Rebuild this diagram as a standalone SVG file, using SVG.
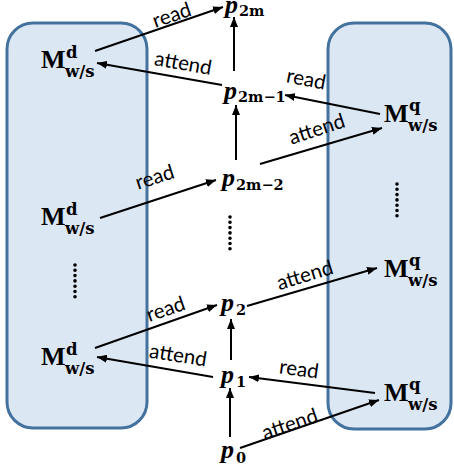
<svg xmlns="http://www.w3.org/2000/svg" width="454" height="470" viewBox="0 0 454 470">
<style>
.box{fill:#dce7f4;stroke:#44729e;stroke-width:3}
.M{font-family:"Liberation Serif",serif;font-weight:bold;font-size:26px;fill:#000}
.ms{font-family:"DejaVu Serif",serif;font-weight:bold;font-size:16.5px;fill:#000}
.p{font-family:"Liberation Serif",serif;font-weight:bold;font-style:italic;font-size:26px;fill:#000}
.ps{font-family:"DejaVu Serif",serif;font-weight:bold;font-size:14.5px;fill:#000}
.lab{font-family:Lato,"Liberation Sans",sans-serif;font-size:20.5px;fill:#000;text-anchor:middle}
.arr{stroke:#000;stroke-width:2;fill:none;marker-end:url(#ah)}
.dots{stroke:#000;stroke-width:3.6;stroke-linecap:round;stroke-dasharray:0 5.3;fill:none}
</style>
<defs>
<marker id="ah" markerUnits="userSpaceOnUse" markerWidth="10" markerHeight="8" refX="10" refY="4" orient="auto">
<path d="M0,0 L10,4 L0,8 z" fill="#000"/>
</marker>
</defs>
<g id="box-d"><rect class="box" x="7" y="23" width="140" height="405" rx="26"/></g>
<g id="box-q"><rect class="box" x="328" y="23" width="123" height="406" rx="26"/></g>

<g id="connectors">
<line class="arr" x1="230" y1="437" x2="230" y2="388"/>
<line class="arr" x1="231" y1="360" x2="231" y2="319"/>
<line class="arr" x1="236" y1="160" x2="236" y2="105"/>
<line class="arr" x1="234" y1="71" x2="234" y2="17"/>
<line class="arr" x1="95" y1="51" x2="223" y2="7"/>
<line class="arr" x1="222" y1="85" x2="97" y2="63"/>
<line class="arr" x1="380" y1="114" x2="285" y2="95"/>
<line class="arr" x1="260" y1="164" x2="382" y2="128"/>
<line class="arr" x1="100" y1="218" x2="216" y2="180"/>
<line class="arr" x1="95" y1="348" x2="217" y2="305"/>
<line class="arr" x1="213" y1="377" x2="97" y2="357"/>
<line class="arr" x1="247" y1="306" x2="377" y2="268"/>
<line class="arr" x1="375" y1="393" x2="249" y2="377"/>
<line class="arr" x1="240" y1="448" x2="379" y2="400"/>
<text class="lab" transform="translate(172,16) rotate(-19)" y="6">read</text>
<text class="lab" transform="translate(183,64) rotate(10)" y="6">attend</text>
<text class="lab" transform="translate(306,80) rotate(11)" y="6">read</text>
<text class="lab" transform="translate(317,130) rotate(-18)" y="6">attend</text>
<text class="lab" transform="translate(155,178) rotate(-18)" y="6">read</text>
<text class="lab" transform="translate(166,310) rotate(-19)" y="6">read</text>
<text class="lab" transform="translate(178,356) rotate(9)" y="6">attend</text>
<text class="lab" transform="translate(305,276) rotate(-17)" y="6">attend</text>
<text class="lab" transform="translate(299,370) rotate(8)" y="6">read</text>
<text class="lab" transform="translate(290,425) rotate(-19)" y="6">attend</text>
</g>

<g id="Md1"><text class="M" x="41" y="68">M</text><text class="ms" x="66" y="58">d</text><text class="ms" x="65" y="77">w/s</text></g>
<g id="Md2"><text class="M" x="41" y="225">M</text><text class="ms" x="66" y="215">d</text><text class="ms" x="65" y="234">w/s</text></g>
<g id="Md3"><text class="M" x="41" y="365">M</text><text class="ms" x="66" y="355">d</text><text class="ms" x="65" y="374">w/s</text></g>
<g id="Mq1"><text class="M" x="384" y="122">M</text><text class="ms" x="409" y="111">q</text><text class="ms" x="408" y="131">w/s</text></g>
<g id="Mq2"><text class="M" x="384" y="277">M</text><text class="ms" x="409" y="266">q</text><text class="ms" x="408" y="286">w/s</text></g>
<g id="Mq3"><text class="M" x="384" y="401">M</text><text class="ms" x="409" y="390">q</text><text class="ms" x="408" y="410">w/s</text></g>

<g id="p2m"><text class="p" x="225" y="13">p</text><text class="ps" x="239" y="16">2m</text></g>
<g id="p2m-1"><text class="p" x="224" y="99">p</text><text class="ps" x="238" y="102">2m−1</text></g>
<g id="p2m-2"><text class="p" x="222" y="186">p</text><text class="ps" x="236" y="190">2m−2</text></g>
<g id="p2"><text class="p" x="221" y="311">p</text><text class="ps" x="236" y="315">2</text></g>
<g id="p1"><text class="p" x="221" y="383">p</text><text class="ps" x="236" y="387">1</text></g>
<g id="p0"><text class="p" x="221" y="458">p</text><text class="ps" x="236" y="463">0</text></g>

<g id="dots">
<line class="dots" x1="230" y1="217" x2="230" y2="249"/>
<line class="dots" x1="75" y1="265" x2="75" y2="297"/>
<line class="dots" x1="397" y1="184" x2="397" y2="216"/>
</g>
</svg>
